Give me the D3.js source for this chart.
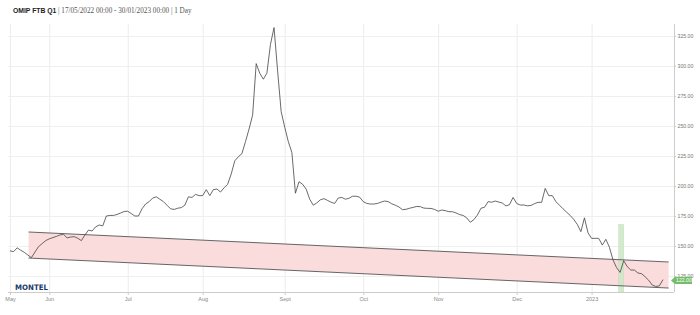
<!DOCTYPE html>
<html>
<head>
<meta charset="utf-8">
<script src="https://cdn.jsdelivr.net/npm/d3@7"></script>
<style>
  body { margin: 0; background: #fff; }
  svg { display: block; }
</style>
</head>
<body>
<script>
(function (d3) {
  'use strict';

  // daily settlement prices, one per trading day (17/05/2022 - 30/01/2023)
  const prices = [
    146, 145.3, 148.5, 146.5, 144.8, 142.5, 140.3, 145, 149.5, 152,
    154.5, 156, 157, 158, 159.2, 159.7, 156.8, 157.5, 157.8, 156.5,
    154.5, 159.2, 163.3, 162.5, 166, 167.5, 166.8, 175, 175.5, 175.5,
    176.3, 177.5, 178.8, 179, 177, 175, 175, 181, 185, 187,
    190, 191, 189, 187, 184, 181, 180.5, 181.5, 182, 184,
    191, 190.5, 193, 192, 192, 197, 192, 197, 197.5, 195,
    198.5, 201.5, 210, 221, 224.4, 227, 237, 247.5, 259, 302,
    294, 289, 294, 318, 332, 296, 262, 249, 237, 228,
    194, 203.6, 201.5, 197.5, 189, 184, 186, 188.5, 189.5, 188,
    186.5, 185.5, 190, 190.5, 189, 189.8, 191.5, 191.5, 190.7, 187,
    185.5, 185, 185, 185.5, 186.6, 187.5, 187, 185.2, 184, 182.6,
    180.3, 180.6, 181.5, 182.2, 183, 182.8, 181.6, 181.4, 181.3, 180.5,
    179, 180, 179.5, 178.6, 178.6, 177.6, 176.2, 175.5, 173.5, 169.8,
    172, 175.8, 181.5, 182.3, 187, 186.5, 187.5, 186.6, 185.8, 183.4,
    184.5, 190.5, 185.5, 184.2, 184.2, 183.5, 183.8, 185.3, 186.4, 186.4,
    198, 192, 192, 187, 184, 181, 178.2, 175.5, 172.2, 168,
    162, 173.5, 161, 156.4, 156.4, 156.4, 150.8, 155.6, 149, 138.5,
    132, 128, 137.8, 132.8, 130, 130, 127.5, 127, 124.4, 121.5,
    117.5, 116.3, 116.8, 122
  ];

  // month ticks on the ordinal (trading day) axis
  const tickIdx = [0, 11, 33, 54, 77, 99, 120, 142, 163];
  const tickLabels = ['May', 'Jun', 'Jul', 'Aug', 'Sept', 'Oct', 'Nov', 'Dec', '2023'];
  const yTicks = [125, 150, 175, 200, 225, 250, 275, 300, 325];

  // trend channel drawn on the chart
  const channelIdx = [5.2, 184.6];
  const channelUpper = [161.7, 136.7];
  const channelLower = [140, 115];

  // highlighted day
  const highlightIdx = 171.3;
  const highlightTop = 168;

  const lastValue = 122;

  const width = 700;
  const height = 315;
  const plot = { left: 8, right: 674, top: 24, bottom: 292 };

  const svg = d3.select('body')
    .append('svg')
    .attr('width', width)
    .attr('height', height);

  const x = d3.scaleLinear()
    .domain([-0.56, 186.1])
    .range([plot.left, plot.right]);

  const y = d3.scaleLinear()
    .domain([111.7, 335])
    .range([plot.bottom, plot.top]);

  // grid
  svg.append('g')
    .attr('transform', `translate(0,${plot.bottom})`)
    .call(d3.axisBottom(x).tickValues(tickIdx).tickSize(-(plot.bottom - plot.top)).tickFormat(''))
    .call((g) => g.select('.domain').remove())
    .call((g) => g.selectAll('line').attr('stroke', '#ececec'));

  svg.append('g')
    .attr('transform', `translate(${plot.right},0)`)
    .call(d3.axisLeft(y).tickValues(yTicks).tickSize(plot.right - plot.left).tickFormat(''))
    .call((g) => g.select('.domain').remove())
    .call((g) => g.selectAll('line').attr('stroke', '#efefef'));

  // channel
  const chan = channelIdx.map((d, i) => ({ i: d, hi: channelUpper[i], lo: channelLower[i] }));

  svg.append('path')
    .datum(chan)
    .attr('fill', '#fadcdc')
    .attr('d', d3.area().x((d) => x(d.i)).y0((d) => y(d.lo)).y1((d) => y(d.hi)));

  // highlight bar
  svg.append('rect')
    .attr('x', x(highlightIdx) - 2.5)
    .attr('width', 5)
    .attr('y', y(highlightTop))
    .attr('height', plot.bottom - y(highlightTop))
    .attr('fill', '#cfe8c8')
    .attr('stroke', '#bddcb5')
    .attr('stroke-width', 0.5)
    .attr('opacity', 0.9);

  ['hi', 'lo'].forEach((k) => {
    svg.append('path')
      .datum(chan)
      .attr('fill', 'none')
      .attr('stroke', '#555')
      .attr('stroke-width', 0.9)
      .attr('d', d3.line().x((d) => x(d.i)).y((d) => y(d[k])));
  });

  // price line
  svg.append('path')
    .datum(prices)
    .attr('fill', 'none')
    .attr('stroke', '#444')
    .attr('stroke-width', 0.8)
    .attr('stroke-linejoin', 'round')
    .attr('d', d3.line().x((d, i) => x(i)).y((d) => y(d)));

  // x axis
  const xAxis = svg.append('g')
    .attr('transform', `translate(0,${plot.bottom})`)
    .call(d3.axisBottom(x).tickValues(tickIdx).tickSize(3).tickPadding(2)
      .tickFormat((d, i) => tickLabels[i]));
  xAxis.select('.domain').attr('stroke', '#ccc').attr('d', `M${plot.left},0.5H${plot.right}`);
  xAxis.selectAll('line').attr('stroke', '#ccc');
  xAxis.selectAll('text')
    .attr('fill', '#888')
    .style('font', '5.5px "Liberation Sans", Arial, sans-serif');

  // y axis on the right
  const yAxis = svg.append('g')
    .attr('transform', `translate(${plot.right},0)`)
    .call(d3.axisRight(y).tickValues(yTicks).tickSize(2).tickPadding(1.5)
      .tickFormat(d3.format('.2f')));
  yAxis.select('.domain').attr('stroke', '#ccc').attr('d', `M0.5,${plot.top}V${plot.bottom}`);
  yAxis.selectAll('line').attr('stroke', '#ccc');
  yAxis.selectAll('text')
    .attr('fill', '#777')
    .style('font', '5.2px "Liberation Sans", Arial, sans-serif');

  // last value marker (sits over the lowest y label, as in the source)
  const ly = y(lastValue) + 0.8;
  svg.append('path')
    .attr('fill', '#74bd6b')
    .attr('d', `M${plot.right - 3},${ly}L${plot.right + 1},${ly - 3.6}H${plot.right + 18}V${ly + 3.6}H${plot.right + 1}Z`);
  svg.append('text')
    .attr('x', plot.right + 2)
    .attr('y', ly + 1.9)
    .attr('fill', '#fff')
    .style('font', '5.2px "Liberation Sans", Arial, sans-serif')
    .text(d3.format('.2f')(lastValue));

  // title
  const title = svg.append('text')
    .attr('x', 13)
    .attr('y', 12.5)
    .style('font-size', '7.2px');
  title.append('tspan')
    .style('font-family', '"Liberation Sans", Arial, sans-serif')
    .style('font-weight', 'bold')
    .style('font-size', '6.8px')
    .attr('fill', '#222')
    .text('OMIP FTB Q1');
  title.append('tspan')
    .style('font-family', '"Liberation Serif", "DejaVu Serif", serif')
    .attr('fill', '#555')
    .text(' | 17/05/2022 00:00 - 30/01/2023 00:00 | 1 Day');

  // logo
  svg.append('text')
    .attr('x', 15)
    .attr('y', 290)
    .attr('fill', '#1b3a6b')
    .attr('textLength', 33)
    .attr('lengthAdjust', 'spacingAndGlyphs')
    .style('font', 'bold 7.5px "DejaVu Sans", sans-serif')
    .text('MONTEL');

})(d3);
</script>
</body>
</html>
